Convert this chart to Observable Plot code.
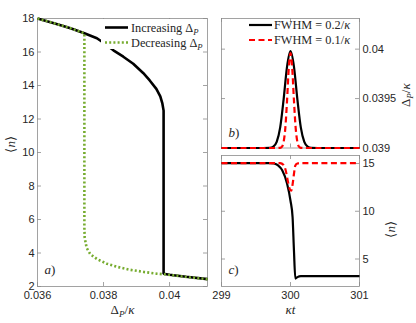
<!DOCTYPE html>
<html><head><meta charset="utf-8">
<script src="https://cdn.jsdelivr.net/npm/d3@7"></script>
<script src="https://cdn.jsdelivr.net/npm/@observablehq/plot@0.6"></script>
<style>
body{margin:0;background:#fff;}
#chart{position:relative;width:416px;height:323px;overflow:hidden;background:#fff;}
#chart svg{position:absolute;left:0;top:0;}
</style></head><body><div id="chart"></div>
<script>
// ---------- Panel a) data: <n> vs Delta_P/kappa ----------
const incDelta = [0.0360, 0.0365, 0.0370, 0.03742, 0.0378, 0.0380, 0.0383, 0.0386, 0.0389, 0.0392, 0.0394, 0.0396, 0.03972, 0.03978, 0.03982, 0.03982, 0.0400, 0.0405, 0.04115];
const incN     = [18.0,   17.72,  17.42,  17.12,   16.82,  16.55,  16.1,   15.72,  15.3,   14.75,  14.3,   13.8,   13.35,   12.95,   12.5,    2.76,    2.70,   2.58,   2.44];
const decDelta = [0.0360, 0.0365, 0.0370, 0.03742, 0.03742, 0.03743, 0.03749, 0.0376, 0.03781, 0.0381, 0.03842, 0.0388, 0.03922, 0.0396, 0.03982, 0.0402, 0.0406, 0.04115];
const decN     = [18.0,   17.72,  17.42,  17.12,   5.5,     4.9,     4.3,     3.93,   3.63,    3.36,   3.17,    3.0,    2.87,    2.77,   2.73,    2.65,   2.55,   2.44];
const aXTicks = [0.036, 0.038, 0.04];
const aYTicks = [2, 4, 6, 8, 10, 12, 14, 16, 18];

// ---------- Panel b) data: Delta_P/kappa vs kappa t ----------
const bWideT  = [299, 299.5, 299.7, 299.75, 299.8, 299.85, 299.9, 299.95, 300, 300.05, 300.1, 300.15, 300.2, 300.25, 300.3, 300.5, 301];
const bWideV  = [0.039, 0.039, 0.039002, 0.039013, 0.039061, 0.039206, 0.03949, 0.039824, 0.03998, 0.039824, 0.03949, 0.039206, 0.039061, 0.039013, 0.039002, 0.039, 0.039];
const bNarT   = [299, 299.8, 299.85, 299.875, 299.9, 299.925, 299.95, 299.975, 300, 300.025, 300.05, 300.075, 300.1, 300.125, 300.15, 300.2, 301];
const bNarV   = [0.039, 0.039, 0.039002, 0.039012, 0.03906, 0.039202, 0.03948, 0.039807, 0.03996, 0.039807, 0.03948, 0.039202, 0.03906, 0.039012, 0.039002, 0.039, 0.039];
const bYTicks = [0.039, 0.0395, 0.04];
const tTicks  = [299, 300, 301];

// ---------- Panel c) data: <n> vs kappa t ----------
const cWideT = [299, 299.7, 299.76, 299.82, 299.88, 299.95, 300.0, 300.03, 300.05, 300.07, 300.1, 300.15, 300.3, 301];
const cWideN = [15.05, 15.05, 15.0, 14.8, 14.3, 12.9, 11.1, 9.4, 5.9, 2.95, 3.1, 3.2, 3.2, 3.2];
const cNarT  = [299, 299.85, 299.9, 299.93, 299.96, 299.99, 300.01, 300.03, 300.05, 300.07, 300.1, 300.15, 301];
const cNarN  = [15.05, 15.05, 14.85, 14.3, 13.2, 12.3, 12.15, 12.8, 13.9, 14.8, 15.0, 15.05, 15.05];
const cYTicks = [5, 10, 15];

const legendA = ["Increasing Δ_P", "Decreasing Δ_P"];
const legendB = ["FWHM = 0.2/κ", "FWHM = 0.1/κ"];

// ---------- styling ----------
const W = 416, H = 323;
const serif = "'Liberation Serif','Times New Roman',serif";
const sans = "'Liberation Sans',Arial,sans-serif";
const inkColor = "#262626";
const boxColor = "#8c8c8c";
const green = "#77AC30";
const red = "#FF0000";
const dotDash = "2,2.2", dashDash = "6,3.5";
const baseStyle = {background: "transparent", overflow: "visible", fontFamily: sans, fontSize: "11px", color: inkColor};

const pairs = (xs, ys) => xs.map((x, i) => ({x, y: ys[i]}));
const incData = pairs(incDelta, incN), decData = pairs(decDelta, decN);
const bWide = pairs(bWideT, bWideV), bNar = pairs(bNarT, bNarV);
const cWide = pairs(cWideT, cWideN), cNar = pairs(cNarT, cNarN);

function inTicks(xt, yt, fw, fh, len = 4) {
  const o = {stroke: boxColor, strokeWidth: 0.8};
  return [
    Plot.tickX(xt, {x: d => d, insetTop: fh - len, ...o}),
    Plot.tickX(xt, {x: d => d, insetBottom: fh - len, ...o}),
    Plot.tickY(yt, {y: d => d, insetRight: fw - len, ...o}),
    Plot.tickY(yt, {y: d => d, insetLeft: fw - len, ...o})
  ];
}
const T = (s, opts) => Plot.text([s], {text: d => d, fontFamily: serif, fontSize: 13, fill: inkColor, ...opts});
const lineOpts = {strokeLinecap: "butt", strokeLinejoin: "miter"};

// Panel a
const A = {l: 37, r: 207, t: 18, b: 286};
const plotA = Plot.plot({
  width: W, height: H, marginLeft: A.l, marginRight: W - A.r, marginTop: A.t, marginBottom: H - A.b,
  style: baseStyle,
  x: {domain: [0.036, 0.04115]},
  y: {domain: [2, 18]},
  marks: [
    Plot.frame({stroke: boxColor, strokeWidth: 0.8}),
    ...inTicks(aXTicks, aYTicks, A.r - A.l, A.b - A.t),
    Plot.axisX({ticks: aXTicks, tickSize: 0, tickPadding: 5, tickFormat: String, label: null}),
    Plot.axisY({ticks: aYTicks, tickSize: 0, tickPadding: 3, tickFormat: String, label: null}),
    Plot.line(incData, {x: "x", y: "y", stroke: "black", strokeWidth: 2.6, ...lineOpts}),
    Plot.line(decData, {x: "x", y: "y", stroke: green, strokeWidth: 2.6, strokeDasharray: dotDash, ...lineOpts}),
    T("Δ_P/κ", {frameAnchor: "bottom", dy: 27}),
    T("⟨n⟩", {frameAnchor: "left", dx: -27, rotate: -90}),
    T("a)", {frameAnchor: "bottom-left", dx: 7, dy: -13, textAnchor: "start"})
  ]
});

// Panel b
const B = {l: 221, r: 359, t: 18, b: 147.5};
const plotB = Plot.plot({
  width: W, height: H, marginLeft: B.l, marginRight: W - B.r, marginTop: B.t, marginBottom: H - B.b,
  style: baseStyle,
  x: {domain: [299, 301], axis: null},
  y: {domain: [0.039, 0.04031]},
  marks: [
    Plot.frame({stroke: boxColor, strokeWidth: 0.8}),
    ...inTicks(tTicks, bYTicks, B.r - B.l, B.b - B.t),
    Plot.axisY({ticks: bYTicks, anchor: "right", tickSize: 0, tickPadding: 3, tickFormat: String, label: null}),
    Plot.line(bWide, {x: "x", y: "y", stroke: "black", strokeWidth: 2.2, curve: "monotone-x", ...lineOpts}),
    Plot.line(bNar, {x: "x", y: "y", stroke: red, strokeWidth: 2.2, strokeDasharray: dashDash, curve: "monotone-x", ...lineOpts}),
    T("Δ_P/κ", {frameAnchor: "right", dx: 46, rotate: -90}),
    T("b)", {frameAnchor: "bottom-left", dx: 7, dy: -11, textAnchor: "start"})
  ]
});

// Panel c
const C = {l: 221, r: 359, t: 155, b: 286};
const plotC = Plot.plot({
  width: W, height: H, marginLeft: C.l, marginRight: W - C.r, marginTop: C.t, marginBottom: H - C.b,
  style: baseStyle,
  x: {domain: [299, 301]},
  y: {domain: [2.12, 15.84]},
  marks: [
    Plot.frame({stroke: boxColor, strokeWidth: 0.8}),
    ...inTicks(tTicks, cYTicks, C.r - C.l, C.b - C.t),
    Plot.axisX({ticks: tTicks, tickSize: 0, tickPadding: 5, tickFormat: String, label: null}),
    Plot.axisY({ticks: cYTicks, anchor: "right", tickSize: 0, tickPadding: 3, tickFormat: String, label: null}),
    Plot.line(cWide, {x: "x", y: "y", stroke: "black", strokeWidth: 2.2, curve: "monotone-x", ...lineOpts}),
    Plot.line(cNar, {x: "x", y: "y", stroke: red, strokeWidth: 2.2, strokeDasharray: dashDash, curve: "monotone-x", ...lineOpts}),
    T("κt", {frameAnchor: "bottom", dy: 27}),
    T("⟨n⟩", {frameAnchor: "right", dx: 31, rotate: -90}),
    T("c)", {frameAnchor: "bottom-left", dx: 7, dy: -13, textAnchor: "start"})
  ]
});

const chart = document.getElementById("chart");
chart.append(plotA, plotB, plotC);

// ---------- legends (overlay) ----------
const ov = d3.select(chart).append("svg").attr("width", W).attr("height", H)
  .style("font-family", serif).style("font-size", "12.3px").style("fill", inkColor);
ov.append("rect").attr("x", 101).attr("y", 19).attr("width", 105).attr("height", 30).attr("fill", "white");
const legA = [{s: legendA[0], stroke: "black", dash: null}, {s: legendA[1], stroke: green, dash: dotDash}];
legA.forEach((d, i) => {
  const y = 27.5 + 15 * i;
  ov.append("line").attr("x1", 105).attr("x2", 128).attr("y1", y).attr("y2", y)
    .attr("stroke", d.stroke).attr("stroke-width", 2.6).attr("stroke-dasharray", d.dash);
  ov.append("text").attr("x", 131).attr("y", y + 4).attr("fill", inkColor).text(d.s);
});
const legB = [{s: legendB[0], stroke: "black", dash: null}, {s: legendB[1], stroke: red, dash: dashDash}];
legB.forEach((d, i) => {
  const y = 25 + 15 * i;
  ov.append("line").attr("x1", 249).attr("x2", 272).attr("y1", y).attr("y2", y)
    .attr("stroke", d.stroke).attr("stroke-width", 2.2).attr("stroke-dasharray", d.dash);
  ov.append("text").attr("x", 274).attr("y", y + 4).attr("fill", inkColor).text(d.s);
});

// ---------- math-style rich text ----------
const RICH = {
  "Δ_P/κ": [["Δ"], ["P", "sub"], ["/"], ["κ", "i"]],
  "⟨n⟩": [["⟨"], ["n", "i"], ["⟩"]],
  "κt": [["κt", "i"]],
  "a)": [["a", "i"], [")"]],
  "b)": [["b", "i"], [")"]],
  "c)": [["c", "i"], [")"]],
  "Increasing Δ_P": [["Increasing Δ"], ["P", "sub"]],
  "Decreasing Δ_P": [["Decreasing Δ"], ["P", "sub"]],
  "FWHM = 0.2/κ": [["FWHM = 0.2/"], ["κ", "i"]],
  "FWHM = 0.1/κ": [["FWHM = 0.1/"], ["κ", "i"]]
};
const NS = "http://www.w3.org/2000/svg";
chart.querySelectorAll("text").forEach(el => {
  const spec = RICH[el.textContent];
  if (!spec) return;
  while (el.firstChild) el.removeChild(el.firstChild);
  let shifted = false;
  for (const [t, st] of spec) {
    const ts = document.createElementNS(NS, "tspan");
    ts.textContent = t;
    if (st === "i") ts.setAttribute("font-style", "italic");
    if (st === "sub") {
      ts.setAttribute("font-style", "italic");
      ts.setAttribute("font-size", "70%");
      ts.setAttribute("dy", "3");
      shifted = true;
    } else if (shifted) {
      ts.setAttribute("dy", "-3");
      shifted = false;
    }
    el.appendChild(ts);
  }
});
</script></body></html>
